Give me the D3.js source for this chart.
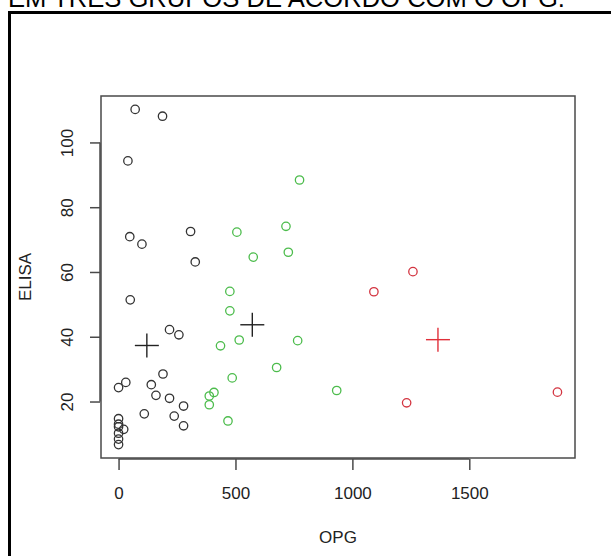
<!DOCTYPE html>
<html>
<head>
<meta charset="utf-8">
<script src="https://cdn.jsdelivr.net/npm/d3@7"></script>
<style>
  body { margin: 0; background: #fff; }
  svg { display: block; font-family: "Liberation Sans", Arial, sans-serif; }
</style>
</head>
<body>
<div id="canvas"></div>
<script>
// group 1 (black), group 2 (green), group 3 (red)
var blackOPG   = [71, 188, 40, 48, 100, 308, 328, 50, 218, 258, 190, 31, 0, 140, 160, 218, 278, 110, 238, 278, 0, 0, 0, 0, 0, 0, 22];
var blackELISA = [110.2, 108.1, 94.3, 70.9, 68.6, 72.5, 63.1, 51.4, 42.2, 40.6, 28.5, 25.9, 24.3, 25.2, 21.9, 21.0, 18.6, 16.2, 15.5, 12.5, 14.7, 13.0, 12.2, 10.2, 8.4, 6.7, 11.4];
var greenOPG   = [506, 576, 774, 716, 726, 476, 476, 516, 436, 766, 676, 486, 408, 388, 388, 468, 933];
var greenELISA = [72.3, 64.6, 88.4, 74.1, 66.1, 54.0, 48.0, 39.0, 37.2, 38.8, 30.5, 27.3, 22.8, 21.7, 19.0, 14.0, 23.4];
var redOPG     = [1259, 1092, 1232, 1877];
var redELISA   = [60.1, 53.9, 19.6, 22.9];
// group centres (+)
var centreOPG   = [121, 572, 1366];
var centreELISA = [37.3, 43.7, 39.1];
var groupColors = ["#333333", "#4cbc4c", "#d33440"];

var xTicks = [0, 500, 1000, 1500];
var yTicks = [20, 40, 60, 80, 100];

var title = "EM TRÊS GRUPOS DE ACORDO COM O OPG.";
var xLabel = "OPG", yLabel = "ELISA";

var W = 611, H = 556;
var box = {left: 101, right: 575, top: 96, bottom: 458};
var fs = 17;

var svg = d3.select("#canvas").append("svg")
  .attr("width", W).attr("height", H);

// page text and frame (cut off by the picture, as in the source)
svg.append("text")
  .attr("x", 8).attr("y", 7)
  .attr("font-size", 25.6)
  .attr("fill", "#000")
  .text(title);

svg.append("rect")
  .attr("x", 9.5).attr("y", 12.5)
  .attr("width", 640).attr("height", 600)
  .attr("fill", "none")
  .attr("stroke", "#000")
  .attr("stroke-width", 3);

var points = [];
[[blackOPG, blackELISA], [greenOPG, greenELISA], [redOPG, redELISA]].forEach(function (g, gi) {
  g[0].forEach(function (v, i) {
    points.push({opg: v, elisa: g[1][i], group: gi});
  });
});

// R-style 4% padding of the data range
function padded(vals) {
  var e = d3.extent(vals), r = e[1] - e[0];
  return [e[0] - 0.04 * r, e[1] + 0.04 * r];
}

var x = d3.scaleLinear()
  .domain(padded(points.map(function (d) { return d.opg; })))
  .range([box.left, box.right]);

var y = d3.scaleLinear()
  .domain(padded(points.map(function (d) { return d.elisa; })))
  .range([box.bottom, box.top]);

var axisColor = "#4a4a4a";

// plot box
svg.append("rect")
  .attr("x", box.left).attr("y", box.top)
  .attr("width", box.right - box.left).attr("height", box.bottom - box.top)
  .attr("fill", "none")
  .attr("stroke", axisColor)
  .attr("stroke-width", 1.5);

// x axis
var gx = svg.append("g")
  .attr("transform", "translate(0," + (box.bottom + 1) + ")")
  .call(d3.axisBottom(x).tickValues(xTicks).tickFormat(d3.format("d"))
    .tickSize(11).tickSizeOuter(0).tickPadding(17));
gx.select(".domain").remove();
gx.append("line")
  .attr("x1", x(xTicks[0])).attr("x2", x(xTicks[xTicks.length - 1]))
  .attr("stroke", axisColor).attr("stroke-width", 1.5);
gx.selectAll(".tick line").attr("stroke", axisColor).attr("stroke-width", 1.5);
gx.selectAll(".tick text")
  .attr("font-size", fs)
  .attr("font-family", "Liberation Sans, Arial, sans-serif")
  .attr("fill", "#222");

// y axis
var gy = svg.append("g")
  .attr("transform", "translate(" + (box.left - 1) + ",0)")
  .call(d3.axisLeft(y).tickValues(yTicks).tickSize(10).tickSizeOuter(0));
gy.select(".domain").remove();
gy.append("line")
  .attr("y1", y(yTicks[0])).attr("y2", y(yTicks[yTicks.length - 1]))
  .attr("stroke", axisColor).attr("stroke-width", 1.5);
gy.selectAll(".tick line").attr("stroke", axisColor).attr("stroke-width", 1.5);
gy.selectAll(".tick text")
  .attr("x", null).attr("dy", null)
  .attr("transform", "translate(-33,0) rotate(-90)")
  .attr("text-anchor", "middle")
  .attr("dominant-baseline", "central")
  .attr("font-size", fs)
  .attr("font-family", "Liberation Sans, Arial, sans-serif")
  .attr("fill", "#222");

// axis titles
svg.append("text")
  .attr("x", (box.left + box.right) / 2).attr("y", 543)
  .attr("text-anchor", "middle")
  .attr("font-size", fs)
  .attr("fill", "#222")
  .text(xLabel);

svg.append("text")
  .attr("transform", "translate(31," + (box.top + box.bottom) / 2 + ") rotate(-90)")
  .attr("text-anchor", "middle")
  .attr("font-size", fs)
  .attr("fill", "#222")
  .text(yLabel);

// points
svg.append("g").selectAll("circle")
  .data(points)
  .enter()
  .append("circle")
  .attr("cx", function (d) { return x(d.opg); })
  .attr("cy", function (d) { return y(d.elisa); })
  .attr("r", 4.2)
  .attr("fill", "none")
  .attr("stroke", function (d) { return groupColors[d.group]; })
  .attr("stroke-width", 1.3);

// centres
var arm = 12;
var centres = svg.append("g").selectAll("g")
  .data(centreOPG.map(function (v, i) { return {opg: v, elisa: centreELISA[i], group: i}; }))
  .enter()
  .append("g")
  .attr("transform", function (d) { return "translate(" + x(d.opg) + "," + y(d.elisa) + ")"; })
  .attr("stroke", function (d) { return d.group === 2 ? "#e0303a" : "#222"; })
  .attr("stroke-width", 1.4);
centres.append("line").attr("x1", -arm).attr("x2", arm);
centres.append("line").attr("y1", -arm).attr("y2", arm);
</script>
</body>
</html>
